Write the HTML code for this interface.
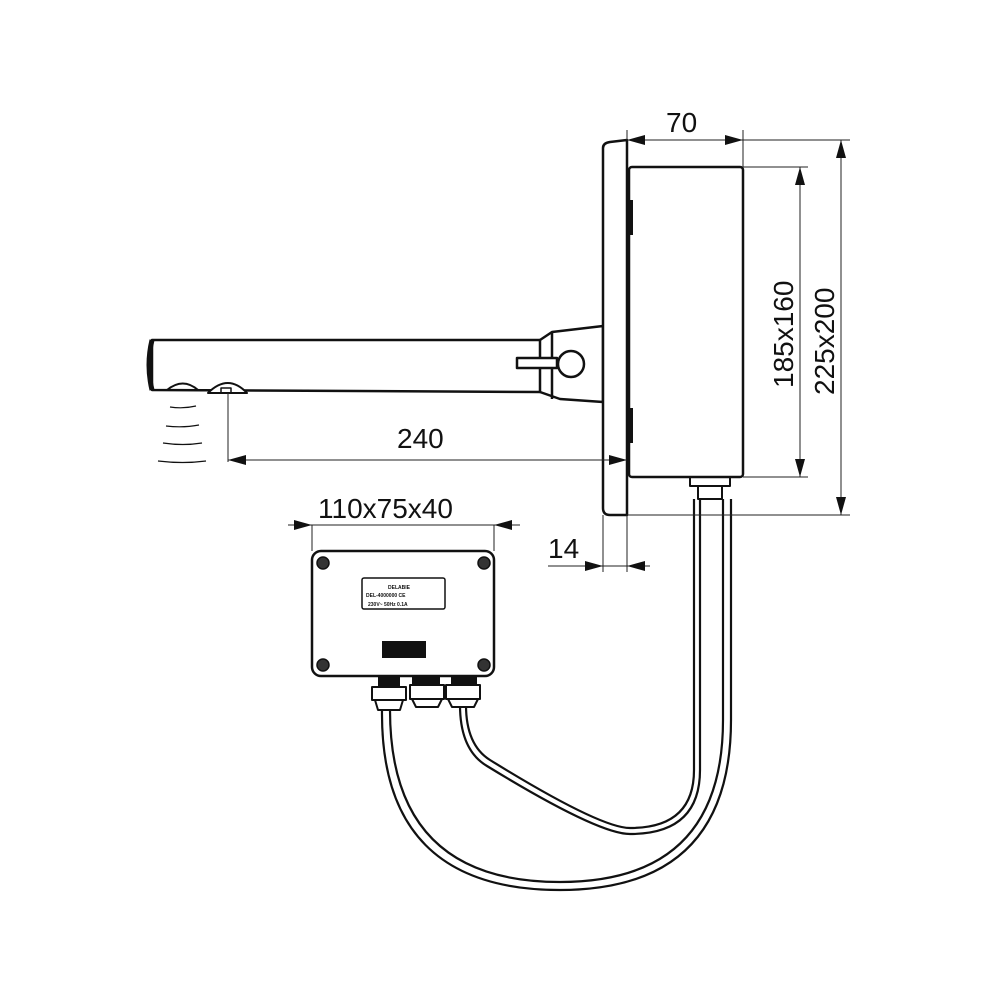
<!DOCTYPE html>
<html><head><style>body{margin:0;background:#fff}svg{display:block}</style></head><body>
<svg width="1000" height="1000" viewBox="0 0 1000 1000" xmlns="http://www.w3.org/2000/svg" font-family="Liberation Sans, sans-serif">
<g fill="none" stroke="#111" stroke-width="2.5" stroke-linejoin="round">
<!-- spout -->
<path d="M152 340 L540 340 L540 392 L152 390 Z" fill="#fff"/>
<path d="M152 340 Q146 365 152 390" stroke-width="5"/>
<path d="M540 340 L552 332 L603 326 L603 402 L560 399 L540 392"/>
<path d="M552 332 L552 399"/>
<rect x="517" y="358" width="40" height="10" fill="#fff"/>
<circle cx="571" cy="364" r="13" fill="#fff"/>
<path d="M167 390 Q183 377 198 390" stroke-width="2"/>
<path d="M208 393 Q228 373 247 393 Z" fill="#fff" stroke-width="2"/>
<rect x="221" y="388" width="10" height="5" stroke-width="1.5"/>
<g stroke-width="1.2"><path d="M170 407 Q183 409 196 406"/><path d="M166 426 Q183 428 199 425"/><path d="M163 443 Q183 446 202 443"/><path d="M158 461 Q183 464 206 461"/></g>
<!-- plate -->
<path d="M603 148 Q603 143 610 142 L627 140 L627 515 L610 515 Q603 515 603 508 Z" fill="#fff"/>
<rect x="629" y="167" width="114" height="310" rx="3" fill="#fff"/>
<rect x="628" y="200" width="5" height="35" fill="#111" stroke="none"/>
<rect x="628" y="408" width="5" height="35" fill="#111" stroke="none"/>
<!-- fitting under box -->
<rect x="690" y="477" width="40" height="9" stroke-width="2"/>
<rect x="698" y="486" width="24" height="13" stroke-width="2"/>
<!-- cables -->
<g stroke-width="2.2">
<path d="M694 499 L694 770 Q694 828 630 828 Q600 828 490 760 Q466 745 466 705"/>
<path d="M700 499 L700 770 Q700 834 630 834 Q598 834 487 766 Q460 750 460 705"/>
<path d="M723 499 L723 720 Q723 882 560 882 Q390 882 390 710"/>
<path d="M731 499 L731 720 Q731 890 560 890 Q380 890 382 710"/>
</g>
<!-- control box -->
<rect x="312" y="551" width="182" height="125" rx="9" fill="#fff"/>
<g stroke-width="1.5" fill="#333"><circle cx="323" cy="563" r="6"/><circle cx="484" cy="563" r="6"/><circle cx="323" cy="665" r="6"/><circle cx="484" cy="665" r="6"/></g>
<rect x="362" y="578" width="83" height="31" rx="2" stroke-width="1.5"/>
<rect x="382" y="641" width="44" height="17" fill="#111" stroke="none"/>
<!-- glands -->
<g stroke-width="2" fill="#fff">
<rect x="379" y="677" width="20" height="10" fill="#111"/>
<rect x="372" y="687" width="34" height="13"/><path d="M375 700 L403 700 L400 710 L378 710 Z"/>
<rect x="413" y="677" width="26" height="8" fill="#111"/>
<rect x="410" y="685" width="34" height="14"/><path d="M412 699 L442 699 L438 707 L416 707 Z"/>
<rect x="452" y="677" width="24" height="8" fill="#111"/>
<rect x="446" y="685" width="34" height="14"/><path d="M448 699 L478 699 L474 707 L452 707 Z"/>
</g>
</g>
<!-- dimension lines -->
<g stroke="#222" stroke-width="1" fill="none">
<path d="M228 393 L228 462 M228 460 L627 460"/>
<path d="M627 140 L627 130 M743 167 L743 130 M627 140 L743 140"/>
<path d="M743 140 L850 140 M743 167 L808 167 M743 477 L808 477 M627 515 L850 515"/>
<path d="M800 167 L800 477 M841 140 L841 515"/>
<path d="M288 525 L520 525 M312 525 L312 551 M494 525 L494 551"/>
<path d="M603 515 L603 572 M627 515 L627 572 M548 566 L650 566"/>
</g>
<g fill="#111">
<path d="M228 460 l18 -5 l0 10 Z M627 460 l-18 -5 l0 10 Z"/>
<path d="M627 140 l18 -5 l0 10 Z M743 140 l-18 -5 l0 10 Z"/>
<path d="M800 167 l-5 18 l10 0 Z M800 477 l-5 -18 l10 0 Z"/>
<path d="M841 140 l-5 18 l10 0 Z M841 515 l-5 -18 l10 0 Z"/>
<path d="M312 525 l-18 -5 l0 10 Z M494 525 l18 -5 l0 10 Z"/>
<path d="M603 566 l-18 -5 l0 10 Z M627 566 l18 -5 l0 10 Z"/>
</g>
<g font-size="28" fill="#111">
<text x="397" y="448">240</text>
<text x="666" y="132">70</text>
<text x="318" y="518">110x75x40</text>
<text x="548" y="558">14</text>
<text transform="translate(793 388) rotate(-90)">185x160</text>
<text transform="translate(834 395) rotate(-90)">225x200</text>
</g>
<g font-size="5" font-weight="bold" fill="#111">
<text x="388" y="589">DELABIE</text><text x="366" y="597">DEL-4000000 CE</text><text x="368" y="606">230V~  50Hz  0.1A</text>
</g>
</svg>
</body></html>
